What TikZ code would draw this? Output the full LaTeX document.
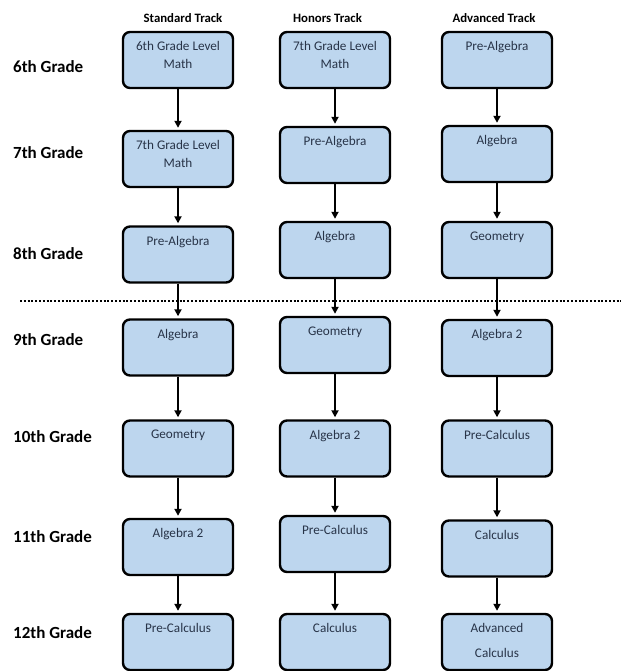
\documentclass[tikz,border=0pt]{standalone}
\usepackage{fontspec}
\setmainfont{Carlito}
\usetikzlibrary{arrows.meta}
\definecolor{boxfill}{RGB}{189,214,238}
\definecolor{boxtxt}{RGB}{40,52,72}
\begin{document}
\begin{tikzpicture}[x=1pt,y=-1pt,
  box/.style={draw=black, line width=2.4pt, rounded corners=7pt, fill=boxfill,
    minimum width=110pt, minimum height=56pt, inner sep=0pt},
  boxtext/.style={anchor=north, yshift=-10.5pt, inner sep=0pt, text=boxtxt,
    font=\fontsize{13.2}{18}\selectfont, align=center},
  rowlabel/.style={anchor=west, inner sep=0pt, font=\fontsize{17}{20}\selectfont\bfseries},
  header/.style={inner sep=0pt, font=\fontsize{12.8}{15}\selectfont\bfseries},
  flow/.style={line width=2pt, -{Triangle[length=7pt,width=7pt]}, shorten >=2pt},
  sep/.style={line width=2.2pt, dash pattern=on 2pt off 1.8pt}]
\useasboundingbox (0,0) rectangle (621,671);

% headers
\node[header] (hs) at (183,18) {Standard Track};
\node[header] (hh) at (327.5,18) {Honors Track};
\node[header] (ha) at (494,18) {Advanced Track};

% row labels
\node[rowlabel] (r6) at (13,67) {6th Grade};
\node[rowlabel] (r7) at (13,153) {7th Grade};
\node[rowlabel] (r8) at (13,254) {8th Grade};
\node[rowlabel] (r9) at (13,340) {9th Grade};
\node[rowlabel] (r10) at (13,437) {10th Grade};
\node[rowlabel] (r11) at (13,537) {11th Grade};
\node[rowlabel] (r12) at (13,633) {12th Grade};

% standard track
\node[box, label={[boxtext]north:{6th Grade Level\\Math}}] (s6) at (178,60) {};
\node[box, label={[boxtext]north:{7th Grade Level\\Math}}] (s7) at (178,159) {};
\node[box, label={[boxtext]north:{Pre-Algebra}}] (s8) at (178,254.5) {};
\node[box, label={[boxtext]north:{Algebra}}] (s9) at (178,347.5) {};
\node[box, label={[boxtext]north:{Geometry}}] (s10) at (178,448.5) {};
\node[box, label={[boxtext]north:{Algebra 2}}] (s11) at (178,547) {};
\node[box, label={[boxtext]north:{Pre-Calculus}}] (s12) at (178,642) {};

% honors track
\node[box, label={[boxtext]north:{7th Grade Level\\Math}}] (h6) at (335,60) {};
\node[box, label={[boxtext]north:{Pre-Algebra}}] (h7) at (335,155) {};
\node[box, label={[boxtext]north:{Algebra}}] (h8) at (335,250) {};
\node[box, label={[boxtext]north:{Geometry}}] (h9) at (335,345) {};
\node[box, label={[boxtext]north:{Algebra 2}}] (h10) at (335,448.5) {};
\node[box, label={[boxtext]north:{Pre-Calculus}}] (h11) at (335,544) {};
\node[box, label={[boxtext]north:{Calculus}}] (h12) at (335,642) {};

% advanced track
\node[box, label={[boxtext]north:{Pre-Algebra}}] (a6) at (497,60) {};
\node[box, label={[boxtext]north:{Algebra}}] (a7) at (497,154) {};
\node[box, label={[boxtext]north:{Geometry}}] (a8) at (497,250) {};
\node[box, label={[boxtext]north:{Algebra 2}}] (a9) at (497,348) {};
\node[box, label={[boxtext]north:{Pre-Calculus}}] (a10) at (497,448.5) {};
\node[box, label={[boxtext]north:{Calculus}}] (a11) at (497,548.5) {};
\node[box, label={[boxtext,font=\fontsize{13.2}{25}\selectfont]north:{Advanced\\Calculus}}] (a12) at (497,642) {};

% arrows
\foreach \c in {s,h,a}{
  \draw[flow] (\c6.south) -- (\c7.north);
  \draw[flow] (\c7.south) -- (\c8.north);
  \draw[flow] (\c8.south) -- (\c9.north);
  \draw[flow] (\c9.south) -- (\c10.north);
  \draw[flow] (\c10.south) -- (\c11.north);
  \draw[flow] (\c11.south) -- (\c12.north);
}

% separator
\coordinate (d1) at (20,301);
\coordinate (d2) at (621,301);
\draw[sep] (d1) -- (d2);
\end{tikzpicture}
\end{document}
